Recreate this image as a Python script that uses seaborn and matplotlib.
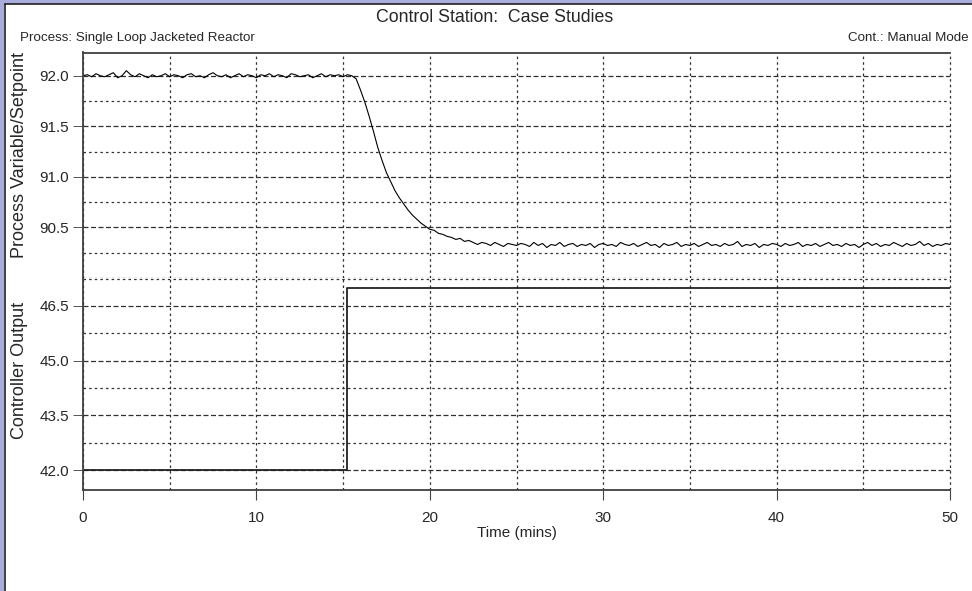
import numpy as np
import pandas as pd
import matplotlib
matplotlib.use("Agg")
import matplotlib.pyplot as plt
import seaborn as sns
from matplotlib.patches import Rectangle
from matplotlib.lines import Line2D

sns.set_style("white")
plt.rcParams['font.family'] = ['Liberation Sans', 'DejaVu Sans']

# ------------------------------------------
# data read off the trend plot (sampled every 0.25 min)
# ------------------------------------------
pv_values = [
    92.00, 92.01, 91.99, 92.02, 92.00, 91.99, 92.01, 92.03, 91.98, 92.00,
    92.05, 92.01, 91.99, 92.02, 92.00, 91.98, 92.01, 91.99, 92.00, 92.02,
    91.99, 92.01, 92.00, 91.98, 92.01, 92.02, 91.99, 92.00, 91.98, 92.01,
    92.03, 92.00, 91.99, 92.01, 91.98, 92.00, 92.02, 91.99, 92.01, 92.00,
    91.98, 92.01, 92.00, 92.02, 91.99, 92.01, 92.00, 91.98, 92.02, 92.01,
    91.99, 92.00, 92.01, 91.98, 92.00, 92.02, 91.99, 92.01, 92.00, 92.01,
    91.99, 92.01, 92.00, 91.97, 91.86, 91.74, 91.60, 91.45, 91.29, 91.16,
    91.04, 90.95, 90.86, 90.79, 90.73, 90.67, 90.62, 90.58, 90.54, 90.51,
    90.48, 90.47, 90.44, 90.43, 90.41, 90.40, 90.38, 90.39, 90.36, 90.37,
    90.35, 90.33, 90.35, 90.34, 90.32, 90.35, 90.33, 90.31, 90.34, 90.33,
    90.32, 90.34, 90.33, 90.31, 90.35, 90.32, 90.34, 90.30, 90.33, 90.32,
    90.35, 90.31, 90.33, 90.34, 90.31, 90.33, 90.32, 90.34, 90.30, 90.33,
    90.34, 90.32, 90.33, 90.31, 90.35, 90.33, 90.32, 90.34, 90.31, 90.33,
    90.35, 90.32, 90.33, 90.30, 90.34, 90.32, 90.33, 90.35, 90.31, 90.33,
    90.32, 90.34, 90.31, 90.33, 90.35, 90.32, 90.33, 90.31, 90.34, 90.32,
    90.33, 90.36, 90.31, 90.33, 90.32, 90.34, 90.30, 90.33, 90.32, 90.34,
    90.33, 90.31, 90.34, 90.32, 90.33, 90.35, 90.31, 90.33, 90.32, 90.34,
    90.31, 90.33, 90.35, 90.32, 90.33, 90.31, 90.34, 90.32, 90.33, 90.30,
    90.33, 90.35, 90.32, 90.34, 90.31, 90.33, 90.32, 90.35, 90.33, 90.31,
    90.34, 90.32, 90.33, 90.36, 90.32, 90.34, 90.31, 90.33, 90.32, 90.34,
    90.33,
]
pv_time = np.linspace(0, 50, len(pv_values))

co_time = [0.0, 15.2, 50.0]
co_values = [42.0, 47.0, 47.0]

pv_major = [90.5, 91.0, 91.5, 92.0]
pv_minor = [90.0, 90.25, 90.75, 91.25, 91.75]
co_major = [42.0, 43.5, 45.0, 46.5]
co_minor = [42.75, 44.25, 45.75, 47.25]
x_major = [0, 10, 20, 30, 40, 50]
x_minor = [5, 15, 25, 35, 45]

df_pv = pd.DataFrame({"t": pv_time, "pv": pv_values})
df_co = pd.DataFrame({"t": co_time, "co": co_values})

# ------------------------------------------
# figure layout (pixel-matched)
# ------------------------------------------
W, H = 972, 591
fig = plt.figure(figsize=(W / 100, H / 100), dpi=100)
fig.patch.set_facecolor("white")

x0, x1 = 83 / W, 950 / W
y_top, y_mid, y_bot = 1 - 52.5 / H, 1 - 277.8 / H, 1 - 490 / H
ax_pv = fig.add_axes([x0, y_mid, x1 - x0, y_top - y_mid])
ax_co = fig.add_axes([x0, y_bot, x1 - x0, y_mid - y_bot], sharex=ax_pv)

sns.lineplot(data=df_pv, x="t", y="pv", ax=ax_pv, color="black",
             linewidth=0.8, estimator=None)
sns.lineplot(data=df_co, x="t", y="co", ax=ax_co, color="#222222",
             linewidth=1.3, estimator=None, drawstyle="steps-post")

frame_col = "#404040"
grid_col = "#303030"
for ax in (ax_pv, ax_co):
    ax.set_xlim(0, 50)
    ax.set_xticks(x_major)
    ax.set_xticks(x_minor, minor=True)
    ax.set_xlabel("")
    ax.set_ylabel("")
    ax.spines["right"].set_visible(False)
    for s in ("left", "top", "bottom"):
        ax.spines[s].set_color(frame_col)
        ax.spines[s].set_linewidth(1.3)
    ax.grid(True, which="major", axis="y", color=grid_col, linewidth=0.9,
            linestyle=(0, (4, 2)))
    ax.grid(True, which="minor", axis="y", color=grid_col, linewidth=0.9,
            linestyle=(0, (2, 2.5)))
    ax.grid(True, which="both", axis="x", color=grid_col, linewidth=0.9,
            linestyle=(0, (2, 2.5)))
    for gl in ax.get_xgridlines() + ax.get_ygridlines():
        gl.set_clip_on(False)
    ax.tick_params(axis="y", which="major", left=True, direction="out", length=7,
                   width=0.7, color="#555555", labelsize=11, pad=3)
    ax.tick_params(axis="y", which="minor", length=0)
    ax.tick_params(axis="x", which="minor", length=0)

ax_pv.spines["bottom"].set_visible(False)
ax_co.spines["top"].set_visible(False)

ax_pv.set_ylim(90.0, 92.23)
ax_pv.set_yticks(pv_major)
ax_pv.set_yticks(pv_minor, minor=True)
ax_pv.set_yticklabels([f"{v:.1f}" for v in pv_major])
ax_pv.tick_params(axis="x", which="both", length=0, labelbottom=False)

ax_co.set_ylim(41.46, 47.27)
ax_co.set_yticks(co_major)
ax_co.set_yticks(co_minor, minor=True)
ax_co.set_yticklabels([f"{v:.1f}" for v in co_major])
ax_co.tick_params(axis="x", which="major", bottom=True, direction="out", length=7,
                  width=0.8, color="#444444", labelsize=11, pad=8)
ax_co.set_xlabel("Time (mins)", fontsize=11, labelpad=1)

# side labels and header texts
fig.text(20 / W, 1 - 155 / H, "Process Variable/Setpoint", rotation=90,
         ha="center", va="center", fontsize=13)
fig.text(20 / W, 1 - 370 / H, "Controller Output", rotation=90,
         ha="center", va="center", fontsize=13)
fig.text(495 / W, 1 - 18 / H, "Control Station:  Case Studies",
         ha="center", va="center", fontsize=12.8)
fig.text(20 / W, 1 - 38 / H, "Process: Single Loop Jacketed Reactor",
         ha="left", va="center", fontsize=9.6)
fig.text(969 / W, 1 - 38 / H, "Cont.: Manual Mode",
         ha="right", va="center", fontsize=9.6)

# window border (left and top)
border = "#a9addb"
fig.patches.append(Rectangle((0, 0), 4 / W, 1, transform=fig.transFigure,
                             facecolor=border, edgecolor="none"))
fig.patches.append(Rectangle((0, 1 - 3.5 / H), 1, 3.5 / H, transform=fig.transFigure,
                             facecolor=border, edgecolor="none"))
fig.lines.append(Line2D([4.8 / W, 4.8 / W], [0, 1 - 4 / H], transform=fig.transFigure,
                        color="#202020", linewidth=1.2))
fig.lines.append(Line2D([4.8 / W, 1], [1 - 4.3 / H, 1 - 4.3 / H], transform=fig.transFigure,
                        color="#202020", linewidth=1.2))

fig.savefig("out.png", dpi=100)
